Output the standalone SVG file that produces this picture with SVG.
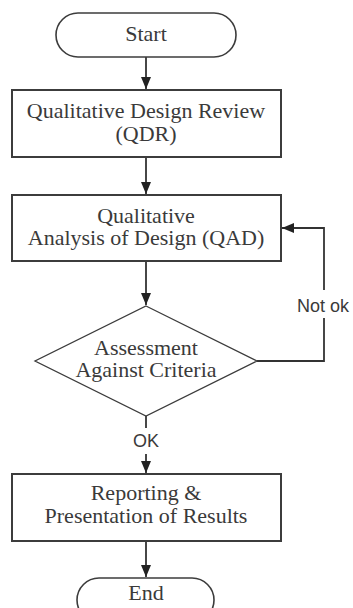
<svg xmlns="http://www.w3.org/2000/svg" width="353" height="608" viewBox="0 0 353 608">
<style>
.box{fill:#fff;stroke:#3c3c3c;stroke-width:2}
.term{fill:#fff;stroke:#3c3c3c;stroke-width:1.6}
.dia{fill:#fff;stroke:#3c3c3c;stroke-width:1.3}
.t{font-family:"Liberation Serif","Times New Roman",serif;font-size:22px;fill:#3a3a3a;text-anchor:middle}
.s{font-family:"Liberation Sans",Arial,sans-serif;font-size:18px;fill:#3a3a3a}
.c{fill:none;stroke:#333;stroke-width:1.8}
</style>
<defs>
<marker id="ah" markerUnits="userSpaceOnUse" markerWidth="12" markerHeight="12" viewBox="0 0 12 10" refX="12" refY="5" orient="auto">
<path d="M0,0 L12,5 L0,10 Z" fill="#222"/>
</marker>
</defs>
<g id="connectors">
<path class="c" d="M146,57 V89" marker-end="url(#ah)"/>
<path class="c" d="M146,157 V194" marker-end="url(#ah)"/>
<path class="c" d="M146,261 V305" marker-end="url(#ah)"/>
<path class="c" d="M146,416 V473" marker-end="url(#ah)"/>
<path class="c" d="M257,361 H324 V228 H282" marker-end="url(#ah)"/>
<path class="c" d="M146,541 V577" marker-end="url(#ah)"/>
<rect x="125" y="428" width="42" height="26" fill="#fff"/>
<text class="s" x="146" y="447" text-anchor="middle">OK</text>
<rect x="295" y="290" width="58" height="28" fill="#fff"/>
<text class="s" x="297" y="312">Not ok</text>
</g>
<g id="start">
<rect class="term" x="56" y="13" width="180" height="44" rx="22"/>
<text class="t" x="146" y="41">Start</text>
</g>
<g id="qdr">
<rect class="box" x="12" y="90" width="269" height="67"/>
<text class="t" x="146" y="118">Qualitative Design Review</text>
<text class="t" x="146" y="141">(QDR)</text>
</g>
<g id="qad">
<rect class="box" x="12" y="195" width="269" height="66"/>
<text class="t" x="146" y="223">Qualitative</text>
<text class="t" x="146" y="245">Analysis of Design (QAD)</text>
</g>
<g id="assessment">
<polygon class="dia" points="146,306 257,361 146,416 35,361"/>
<text class="t" x="146" y="355">Assessment</text>
<text class="t" x="146" y="377">Against Criteria</text>
</g>
<g id="reporting">
<rect class="box" x="12" y="474" width="269" height="67"/>
<text class="t" x="146" y="500">Reporting &amp;</text>
<text class="t" x="146" y="523">Presentation of Results</text>
</g>
<g id="end">
<rect class="term" x="77" y="578" width="137" height="44" rx="22"/>
<text class="t" x="146" y="600">End</text>
</g>
</svg>
